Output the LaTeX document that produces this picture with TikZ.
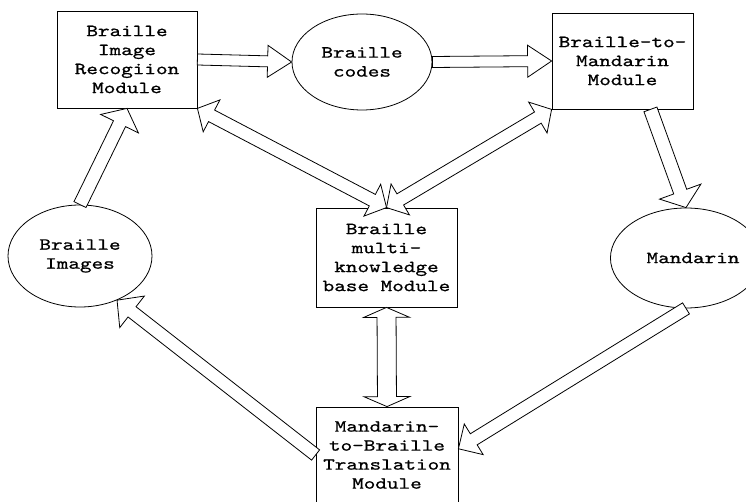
\documentclass[tikz,border=0pt]{standalone}
\usepackage{fontspec}
\usetikzlibrary{calc,shapes.geometric}
\newfontfamily\dfont{lmmono10-regular}[Extension=.otf, FakeStretch=1.3, FakeBold=0.8]
\newcommand\diagfont{\dfont\fontsize{17pt}{19pt}\selectfont}
\tikzset{
  box/.style={draw, line width=0.8pt, rectangle, inner sep=0pt, align=center,
    font=\diagfont},
  oval/.style={draw, line width=0.8pt, ellipse, inner sep=0pt, align=center,
    font=\diagfont},
  arr/.style={draw, line width=0.8pt, fill=white, line join=miter},
}
% single block arrow: from #1 to #2, shaft half width #3, head half width #4, head length #5
\newcommand\blkarrow[5]{%
  \coordinate (tmpH) at ($(#2)!#5!(#1)$);
  \path[arr] ($(#1)!#3!90:(#2)$) -- ($(tmpH)!#3!90:(#2)$) -- ($(tmpH)!#4!90:(#2)$)
    -- (#2) -- ($(tmpH)!#4!-90:(#2)$) -- ($(tmpH)!#3!-90:(#2)$)
    -- ($(#1)!#3!-90:(#2)$) -- cycle;
}
% double block arrow between #1 and #2
\newcommand\dblarrow[5]{%
  \coordinate (tmpA) at ($(#1)!#5!(#2)$);
  \coordinate (tmpB) at ($(#2)!#5!(#1)$);
  \path[arr] (#1) -- ($(tmpA)!#4!90:(#2)$) -- ($(tmpA)!#3!90:(#2)$)
    -- ($(tmpB)!#3!90:(#2)$) -- ($(tmpB)!#4!90:(#2)$) -- (#2)
    -- ($(tmpB)!#4!-90:(#2)$) -- ($(tmpB)!#3!-90:(#2)$)
    -- ($(tmpA)!#3!-90:(#2)$) -- ($(tmpA)!#4!-90:(#2)$) -- cycle;
}
\begin{document}
\begin{tikzpicture}[x=1pt,y=-1pt]
\useasboundingbox (0,0) rectangle (746,502);

\node[box, minimum width=140pt, minimum height=97pt] (b1) at (127,59.5)
  {Braille\\Image\\Recogiion\\Module};
\node[oval, minimum width=140pt, minimum height=96pt] (codes) at (362,62)
  {Braille\\codes};
\node[box, minimum width=141pt, minimum height=96pt] (b3) at (622.5,61)
  {Braille-to-\\Mandarin\\Module};
\node[oval, minimum width=144pt, minimum height=102pt] (bi) at (80,256)
  {Braille\\Images};
\node[oval, minimum width=126pt, minimum height=100pt] (man) at (686,258)
  {\hspace*{14pt}Mandarin};
\node[box, minimum width=141pt, minimum height=99pt] (mid) at (386.5,257.5)
  {Braille\\multi-\\knowledge\\base Module};
\node[box, minimum width=142pt, minimum height=96pt] (bb) at (387,455)
  {Mandarin-\\to-Braille\\Translation\\Module};

\blkarrow{b1.east}{codes.west}{5.5pt}{16pt}{24pt}
\blkarrow{codes.east}{b3.west}{5.5pt}{16pt}{24pt}
\blkarrow{bi.north}{b1.south}{6.7pt}{21pt}{17pt}
\blkarrow{b3.-60}{man.north}{6.9pt}{22pt}{17pt}
\blkarrow{man.south}{bb.5}{6.5pt}{18pt}{18pt}
\blkarrow{bb.west}{bi.-50}{6.5pt}{20pt}{19pt}
\dblarrow{b1.south east}{mid.north}{6.5pt}{18pt}{16pt}
\dblarrow{b3.south west}{mid.north}{6.5pt}{18pt}{16pt}
\dblarrow{mid.south}{bb.north}{9.5pt}{23pt}{10pt}
\end{tikzpicture}
\end{document}
